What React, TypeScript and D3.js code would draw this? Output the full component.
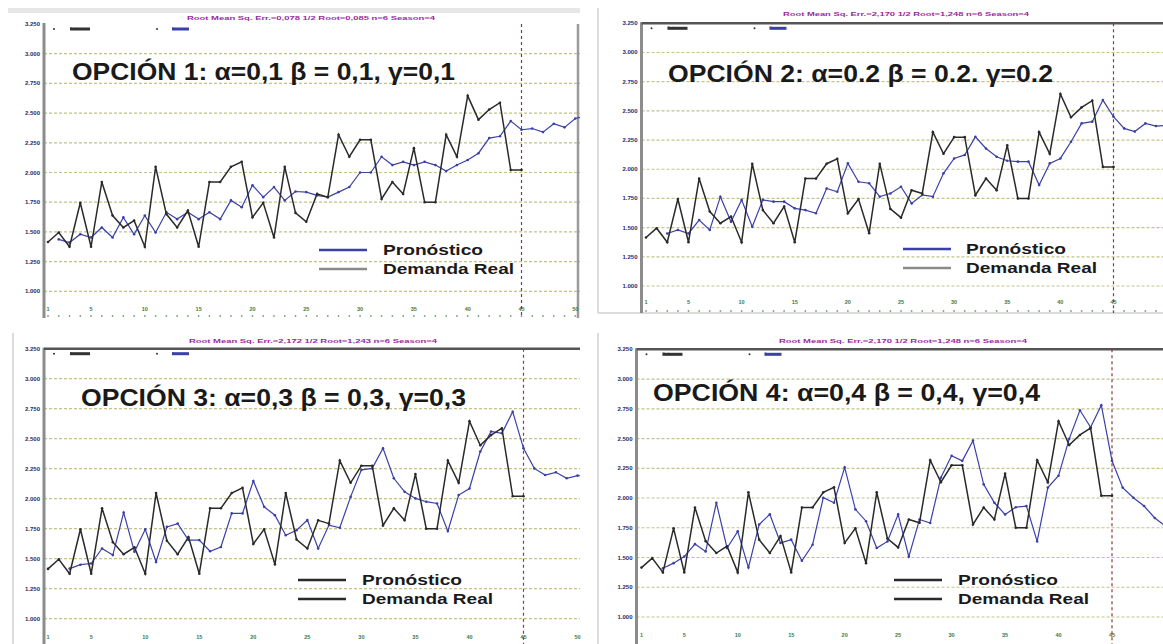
import React from "react";
import * as d3 from "d3";

// ---------- DATA (values in gridline units, 0 = bottom gridline) ----------
const periods = d3.range(1, 46);
const demandaReal = [
  1.66, 1.98, 1.5, 2.98, 1.5, 3.68, 2.55, 2.15, 2.38, 1.5,
  4.19, 2.6, 2.15, 2.72, 1.5, 3.68, 3.68, 4.19, 4.36, 2.49,
  2.98, 1.81, 4.19, 2.64, 2.34, 3.28, 3.17, 5.27, 4.53, 5.1,
  5.1, 3.11, 3.68, 3.28, 4.82, 3.0, 3.0, 5.27, 4.53, 6.58,
  5.78, 6.12, 6.35, 4.08, 4.08,
];

const pronostico1Start = 2;
const pronostico1 = [
  1.75, 1.64, 1.92, 1.81, 2.15, 1.81, 2.49, 1.92, 2.55, 1.98,
  2.66, 2.43, 2.66, 2.43, 2.66, 2.43, 3.06, 2.83, 3.57, 3.17,
  3.51, 3.06, 3.36, 3.34, 3.23, 3.17, 3.34, 3.51, 4.0, 4.0,
  4.53, 4.25, 4.36, 4.25, 4.36, 4.25, 4.05, 4.25, 4.42, 4.65,
  5.16, 5.22, 5.73, 5.44, 5.48, 5.36, 5.64, 5.52, 5.82, 5.9,
];

const pronostico2Start = 3;
const pronostico2 = [
  1.8, 1.92, 1.8, 2.26, 1.92, 3.06, 2.2, 2.95, 2.03, 2.95,
  2.89, 2.89, 2.66, 2.6, 2.49, 3.34, 3.23, 4.2, 3.57, 3.52,
  3.06, 3.17, 3.4, 2.83, 3.12, 3.06, 3.86, 4.37, 4.49, 5.11,
  4.71, 4.43, 4.29, 4.26, 4.26, 3.46, 4.2, 4.37, 4.94, 5.57,
  5.63, 6.37, 5.8, 5.4, 5.29, 5.57, 5.48, 5.5,
];

const pronostico3Start = 3;
const pronostico3 = [
  1.67, 1.8, 1.84, 2.34, 2.12, 3.54, 2.23, 2.98, 1.89, 3.06,
  3.17, 2.62, 2.62, 2.25, 2.39, 3.51, 3.51, 4.59, 3.73, 3.45,
  2.78, 2.95, 3.29, 2.34, 3.12, 3.03, 4.06, 4.96, 5.01, 5.68,
  4.68, 4.23, 4.01, 3.9, 3.84, 2.92, 4.12, 4.34, 5.57, 6.24,
  6.18, 6.9, 5.68, 5.01, 4.79, 4.88, 4.68, 4.77, 4.75,
];

const pronostico4Start = 3;
const pronostico4 = [
  1.64, 1.81, 2.03, 2.45, 2.2, 3.84, 2.32, 2.88, 1.66, 3.11,
  3.45, 2.49, 2.6, 1.89, 2.43, 4.01, 3.84, 5.03, 3.62, 3.22,
  2.32, 2.54, 3.45, 2.03, 3.28, 3.16, 4.69, 5.42, 5.25, 5.93,
  4.46, 3.84, 3.45, 3.69, 3.73, 2.54, 4.35, 4.75, 5.99, 6.95,
  6.38, 7.12, 5.25, 4.35, 4.01, 3.73, 3.33, 3.05, 2.8,
];

const titles = [
  "OPCIÓN 1: α=0,1 β = 0,1, γ=0,1",
  "OPCIÓN 2: α=0.2 β = 0.2. γ=0.2",
  "OPCIÓN 3: α=0,3 β = 0,3, γ=0,3",
  "OPCIÓN 4: α=0,4 β = 0,4, γ=0,4",
];
const legendLabels = ["Pronóstico", "Demanda Real"];
const yTickLabels = ["1.000", "1.250", "1.500", "1.750", "2.000", "2.250", "2.500", "2.750", "3.000", "3.250"];
const yTickValues = d3.range(0, 10);
const xTickValues = [1, 5, 10, 15, 20, 25, 30, 35, 40, 45, 50];
const headerTexts = [
  "Root Mean Sq. Err.=0,078  1/2 Root=0,085  n=6  Season=4",
  "Root Mean Sq. Err.=2,170  1/2 Root=1,248  n=6  Season=4",
  "Root Mean Sq. Err.=2,172  1/2 Root=1,243  n=6  Season=4",
  "Root Mean Sq. Err.=2,170  1/2 Root=1,248  n=6  Season=4",
];
const smallLegend = ["Real", "Pron."];

const seriesList = [
  { start: pronostico1Start, values: pronostico1 },
  { start: pronostico2Start, values: pronostico2 },
  { start: pronostico3Start, values: pronostico3 },
  { start: pronostico4Start, values: pronostico4 },
];

// ---------- LAYOUT ----------
type Cfg = {
  axisX: number; p1x: number; p45x: number; g0y: number; g9y: number;
  topY: number; bottomY: number; rightX: number; topLine: boolean;
  borderX: number | null; borderTop: number; borderBottom: number | null;
  titleX: number; titleY: number; titleW: number;
  legLineX: number; legTextX: number; legY1: number; legY2: number;
  legendDark: boolean; headerX: number; headerY: number; headerW: number;
  xLabY: number; dotY: number; rightBorder: boolean; topBand: boolean;
};

const panels: Cfg[] = [
  { axisX: 44, p1x: 48, p45x: 521.5, g0y: 291.3, g9y: 24, topY: 24, bottomY: 318, rightX: 580,
    topLine: false, borderX: null, borderTop: 0, borderBottom: null,
    titleX: 72, titleY: 79.5, titleW: 383, legLineX: 319, legTextX: 383, legY1: 250, legY2: 269,
    legendDark: false, headerX: 187, headerY: 20, headerW: 248, xLabY: 311, dotY: 316,
    rightBorder: true, topBand: true },
  { axisX: 641.5, p1x: 646, p45x: 1113.5, g0y: 286, g9y: 23.3, topY: 23.3, bottomY: 313, rightX: 1163,
    topLine: true, borderX: 598, borderTop: 8, borderBottom: 313,
    titleX: 668, titleY: 81.5, titleW: 385, legLineX: 903, legTextX: 966, legY1: 249, legY2: 268,
    legendDark: false, headerX: 783, headerY: 16, headerW: 246, xLabY: 304, dotY: 311,
    rightBorder: false, topBand: false },
  { axisX: 44, p1x: 48, p45x: 523.5, g0y: 618.7, g9y: 348.7, topY: 348.7, bottomY: 644, rightX: 580,
    topLine: true, borderX: 13, borderTop: 333, borderBottom: null,
    titleX: 81, titleY: 405.5, titleW: 385, legLineX: 298, legTextX: 362, legY1: 580, legY2: 599,
    legendDark: true, headerX: 189, headerY: 343, headerW: 248, xLabY: 639, dotY: 646,
    rightBorder: false, topBand: false },
  { axisX: 636.5, p1x: 641.5, p45x: 1112, g0y: 617, g9y: 349.3, topY: 349.3, bottomY: 644, rightX: 1163,
    topLine: true, borderX: 598, borderTop: 333, borderBottom: null,
    titleX: 653, titleY: 400.5, titleW: 387, legLineX: 894, legTextX: 958, legY1: 580, legY2: 599,
    legendDark: true, headerX: 779, headerY: 343, headerW: 248, xLabY: 637, dotY: 646,
    rightBorder: false, topBand: false },
];

const BLUE = "#3b40a8";
const BLACK = "#2a2a2a";
const GRID = "#c2c28a";

function Panel({ cfg, idx }: { cfg: Cfg; idx: number }) {
  const x = d3.scaleLinear().domain([1, 45]).range([cfg.p1x, cfg.p45x]);
  const y = d3.scaleLinear().domain([0, 9]).range([cfg.g0y, cfg.g9y]);
  const series = seriesList[idx];
  const fc = series.values.map((v, i) => ({ p: series.start + i, v }));
  const real = periods.map((p, i) => ({ p, v: demandaReal[i] }));
  const line = d3.line<{ p: number; v: number }>().x((d) => x(d.p)).y((d) => y(d.v));
  const clipId = `clip${idx}`;
  const dotPeriods = d3.range(1, 60).filter((p) => x(p) <= cfg.rightX);
  const font = "'Liberation Sans', Arial, sans-serif";
  const proColor = cfg.legendDark ? BLACK : BLUE;
  const realColor = cfg.legendDark ? BLACK : "#8a8a8a";
  return (
    <g>
      <defs>
        <clipPath id={clipId}>
          <rect x={cfg.axisX} y={cfg.topY} width={cfg.rightX - cfg.axisX} height={cfg.bottomY - cfg.topY} />
        </clipPath>
      </defs>
      {cfg.topBand && <rect x={8} y={8} width={572} height={5} fill="#e6e6e6" />}
      {cfg.borderX !== null && (
        <line x1={cfg.borderX} x2={cfg.borderX} y1={cfg.borderTop} y2={cfg.borderBottom ?? 644} stroke="#d0d0d0" strokeWidth={1.5} />
      )}
      {cfg.borderBottom !== null && (
        <line x1={cfg.borderX ?? 0} x2={cfg.rightX} y1={cfg.borderBottom} y2={cfg.borderBottom} stroke="#d0d0d0" strokeWidth={1.5} />
      )}
      {/* header text */}
      <text x={cfg.headerX} y={cfg.headerY} fontSize={5} fill="#9a2aa0" fontFamily={font} fontWeight="bold"
        textLength={cfg.headerW} lengthAdjust="spacingAndGlyphs">{headerTexts[idx]}</text>
      {/* gridlines */}
      {yTickValues.slice(0, 9).map((t) => (
        <line key={t} x1={cfg.axisX} x2={cfg.rightX} y1={y(t)} y2={y(t)} stroke={GRID} strokeWidth={1.2} strokeDasharray="3,2" />
      ))}
      {/* y tick labels */}
      {yTickValues.map((t, i) => (
        <text key={t} x={cfg.axisX - 4} y={y(t) + 2} fontSize={6} fontWeight="bold" fill="#2a2a6a" textAnchor="end" fontFamily={font}>
          {yTickLabels[i]}
        </text>
      ))}
      {/* small top-left legend */}
      <circle cx={cfg.axisX + 10} cy={cfg.topY + 5} r={1} fill="#333" />
      <rect x={cfg.axisX + 26} y={cfg.topY + 3.5} width={20} height={3} fill="#333" />
      <text x={cfg.axisX + 26} y={cfg.topY + 6} fontSize={3} fill="#333" fontFamily={font}>{smallLegend[0]}</text>
      <circle cx={cfg.axisX + 113} cy={cfg.topY + 5} r={1} fill="#333" />
      <rect x={cfg.axisX + 128} y={cfg.topY + 3.5} width={17} height={3} fill={BLUE} />
      <text x={cfg.axisX + 128} y={cfg.topY + 6} fontSize={3} fill={BLUE} fontFamily={font}>{smallLegend[1]}</text>
      {/* axes frame */}
      <line x1={cfg.axisX} x2={cfg.axisX} y1={cfg.topY - 1} y2={cfg.bottomY} stroke="#8c8c8c" strokeWidth={3} />
      {cfg.topLine && (
        <line x1={cfg.axisX} x2={cfg.rightX} y1={cfg.topY} y2={cfg.topY} stroke="#555" strokeWidth={2.5} />
      )}
      {cfg.rightBorder && (
        <line x1={578} x2={578} y1={cfg.topY} y2={cfg.bottomY} stroke="#9a9a9a" strokeWidth={2.5} />
      )}
      {/* x ticks */}
      {xTickValues.filter((p) => x(p) <= cfg.rightX).map((p) => (
        <text key={p} x={x(p)} y={cfg.xLabY} fontSize={5.5} fontWeight="bold" fill="#3f7a3f" textAnchor="middle" fontFamily={font}>{p}</text>
      ))}
      {dotPeriods.map((p) => (
        <circle key={p} cx={x(p)} cy={cfg.dotY} r={0.9} fill="#7aa67a" />
      ))}
      {/* vertical dashed line */}
      <line x1={x(45)} x2={x(45)} y1={cfg.topY} y2={cfg.bottomY} stroke="#8b3a3a" strokeWidth={1.2} strokeDasharray="3,3" />
      {/* data */}
      <g clipPath={`url(#${clipId})`}>
        <path d={line(fc) ?? ""} fill="none" stroke={BLUE} strokeWidth={1.2} />
        {fc.map((d) => (
          <circle key={d.p} cx={x(d.p)} cy={y(d.v)} r={1.3} fill={BLUE} />
        ))}
        <path d={line(real) ?? ""} fill="none" stroke={BLACK} strokeWidth={1.5} />
        {real.map((d) => (
          <circle key={d.p} cx={x(d.p)} cy={y(d.v)} r={1.3} fill={BLACK} />
        ))}
      </g>
      {/* title */}
      <text x={cfg.titleX} y={cfg.titleY} fontSize={24} fontWeight="bold" fill="#1a1a1a" fontFamily={font}
        textLength={cfg.titleW} lengthAdjust="spacingAndGlyphs">{titles[idx]}</text>
      {/* legend */}
      <line x1={cfg.legLineX} x2={cfg.legLineX + 48} y1={cfg.legY1} y2={cfg.legY1} stroke={proColor} strokeWidth={2.5} />
      <line x1={cfg.legLineX} x2={cfg.legLineX + 48} y1={cfg.legY2} y2={cfg.legY2} stroke={realColor} strokeWidth={2.5} />
      <text x={cfg.legTextX} y={cfg.legY1 + 5} fontSize={14} fontWeight="bold" fill="#1a1a1a" fontFamily={font}
        textLength={100} lengthAdjust="spacingAndGlyphs">{legendLabels[0]}</text>
      <text x={cfg.legTextX} y={cfg.legY2 + 5} fontSize={14} fontWeight="bold" fill="#1a1a1a" fontFamily={font}
        textLength={131} lengthAdjust="spacingAndGlyphs">{legendLabels[1]}</text>
    </g>
  );
}

export default function App() {
  return (
    <svg width={1163} height={644} style={{ position: "absolute", left: 0, top: 0, background: "#fff" }}>
      <rect x={0} y={0} width={1163} height={644} fill="#fff" />
      {panels.map((cfg, i) => (
        <Panel key={i} cfg={cfg} idx={i} />
      ))}
    </svg>
  );
}
